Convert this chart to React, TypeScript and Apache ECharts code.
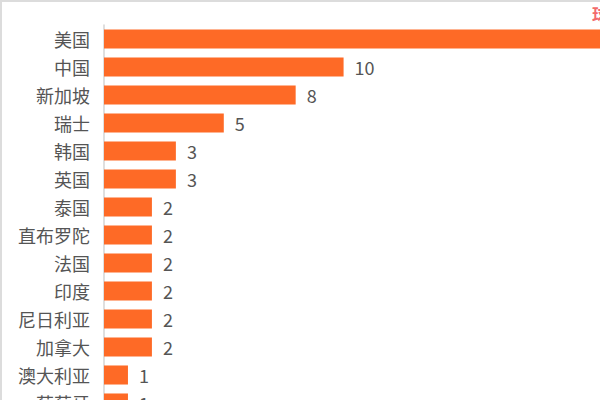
import React, { useEffect, useRef } from "react";
import * as echarts from "echarts";

const categories = ["美国", "中国", "新加坡", "瑞士", "韩国", "英国", "泰国", "直布罗陀", "法国", "印度", "尼日利亚", "加拿大", "澳大利亚", "葡萄牙"];
const values = [22, 10, 8, 5, 3, 3, 2, 2, 2, 2, 2, 2, 1, 1];
const titleText = "球员国籍分布";

export default function App() {
  const ref = useRef<HTMLDivElement>(null);
  useEffect(() => {
    if (!ref.current) return;
    const chart = echarts.init(ref.current, null, { renderer: "svg" });
    chart.setOption({
      animation: false,
      title: {
        text: titleText,
        left: 590,
        top: 2,
        padding: 0,
        textStyle: { color: "#f26b6b", fontSize: 17, fontWeight: "bold", fontFamily: "Noto Sans CJK SC", lineHeight: 18 },
      },
      grid: { left: 102, top: 23, width: 575, height: 392, containLabel: false },
      xAxis: {
        type: "value",
        min: 0,
        max: 24,
        show: false,
        splitLine: { show: false },
      },
      yAxis: {
        type: "category",
        data: categories,
        inverse: true,
        axisLine: { show: true, lineStyle: { color: "#d4d4d4", width: 1.5 } },
        axisTick: { show: false },
        axisLabel: { margin: 14, color: "#555", fontSize: 18, fontFamily: "Noto Sans CJK SC" },
      },
      series: [
        {
          type: "bar",
          data: values,
          barCategoryGap: "32%",
          itemStyle: { color: "#fe6a26" },
          label: {
            show: true,
            position: "right",
            distance: 11,
            color: "#555",
            fontSize: 18,
            fontFamily: "Noto Sans CJK SC",
          },
        },
      ],
    });
    return () => chart.dispose();
  }, []);
  return (
    <div style={{ position: "fixed", left: 0, top: 0, width: 600, height: 400, overflow: "hidden", background: "#fff" }}>
      <div style={{ borderTop: "2px solid #dcdcdc", borderLeft: "2px solid #dcdcdc", width: 700, height: 470 }}>
        <div ref={ref} style={{ width: 700, height: 470 }} />
      </div>
    </div>
  );
}
